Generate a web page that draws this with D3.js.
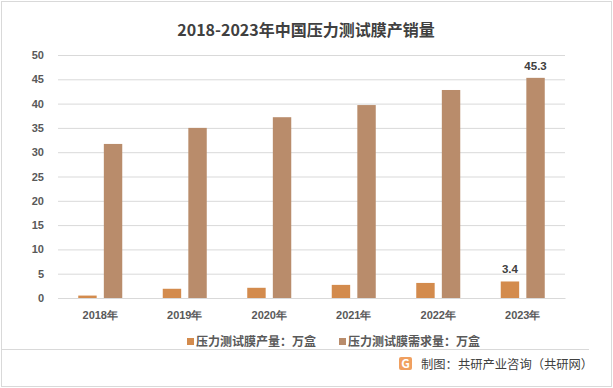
<!DOCTYPE html>
<html><head><meta charset="utf-8">
<script src="https://cdn.jsdelivr.net/npm/d3@7"></script>
<style>body{margin:0;background:#fff;}svg{display:block;font-family:"Noto Sans CJK SC","Noto Sans",sans-serif;}</style>
</head><body><svg id="c" width="613" height="388"></svg>
<script>
const categories = ["2018年","2019年","2020年","2021年","2022年","2023年"];
const production = [0.5, 1.9, 2.1, 2.7, 3.1, 3.4];
const demand = [31.7, 35.0, 37.2, 39.7, 42.8, 45.3];
const seriesNames = ["压力测试膜产量：万盒","压力测试膜需求量：万盒"];
const colors = ["#D38B4D","#B98C6B"];
const yTicks = [0,5,10,15,20,25,30,35,40,45,50];

const svg = d3.select("#c");
svg.append("rect").attr("x",1.5).attr("y",1.5).attr("width",610).attr("height",385)
  .attr("fill","#fff").attr("stroke","#d9d9d9");

svg.append("text").attr("x",306).attr("y",36).attr("text-anchor","middle")
  .attr("font-size",16).attr("font-weight","bold").attr("fill","#404040")
  .text("2018-2023年中国压力测试膜产销量");

const x0 = d3.scaleBand().domain(categories).range([58,565]);
const x1 = d3.scaleBand().domain([0,1]).range([0, 44]).paddingInner(0.28);
const y = d3.scaleLinear().domain([0,50]).range([298,55]);

const yAxis = svg.append("g").attr("transform","translate(58,0)")
  .call(d3.axisLeft(y).tickValues(yTicks).tickSize(-507).tickPadding(14));
yAxis.select(".domain").remove();
yAxis.selectAll(".tick line").attr("stroke","#d9d9d9");
yAxis.selectAll(".tick text").attr("font-size",11).attr("fill","#595959").attr("font-weight","bold")
  .attr("font-family","Liberation Sans, Arial, sans-serif");

const xAxis = svg.append("g").attr("transform","translate(0,298)")
  .call(d3.axisBottom(x0).tickSize(0).tickPadding(13));
xAxis.select(".domain").attr("stroke","#d9d9d9");
xAxis.selectAll(".tick text").attr("font-size",11).attr("fill","#595959").attr("font-weight","bold");

const series = [production, demand];
series.forEach((vals, si) => {
  svg.append("g").selectAll("rect").data(vals).join("rect")
    .attr("x", (d,i) => x0(categories[i]) + (x0.bandwidth()-44)/2 + x1(si))
    .attr("y", d => y(d))
    .attr("width", x1.bandwidth())
    .attr("height", d => y(0) - y(d))
    .attr("fill", colors[si]);
});

// data labels for last category
const last = categories.length - 1;
series.forEach((vals, si) => {
  svg.append("text")
    .attr("x", x0(categories[last]) + (x0.bandwidth()-44)/2 + x1(si) + x1.bandwidth()/2)
    .attr("y", y(vals[last]) - 8)
    .attr("text-anchor","middle").attr("font-size",11.5).attr("fill","#404040")
    .attr("font-family","Liberation Sans, Arial, sans-serif").attr("font-weight","bold")
    .text(vals[last].toFixed(1));
});

// legend
const legX = [187, 339];
seriesNames.forEach((n, i) => {
  svg.append("rect").attr("x", legX[i]).attr("y", 338).attr("width",7).attr("height",7).attr("fill",colors[i]);
  svg.append("text").attr("x", legX[i]+9).attr("y", 346).attr("font-size",12)
    .attr("font-weight","bold").attr("fill","#595959").text(n);
});

svg.append("line").attr("x1",2).attr("x2",589).attr("y1",349.5).attr("y2",349.5).attr("stroke","#d9d9d9");

// footer logo
const lg = svg.append("g").attr("transform","translate(399,357)");
lg.append("rect").attr("width",13).attr("height",13).attr("rx",2).attr("fill","#F0A060");
lg.append("text").attr("x",6.5).attr("y",11).attr("text-anchor","middle").attr("font-size",12)
  .attr("font-weight","bold").attr("fill","#fff").text("G");
svg.append("text").attr("x",421).attr("y",369).attr("font-size",12.3).attr("fill","#404040")
  .text("制图：共研产业咨询（共研网）");
</script></body></html>
